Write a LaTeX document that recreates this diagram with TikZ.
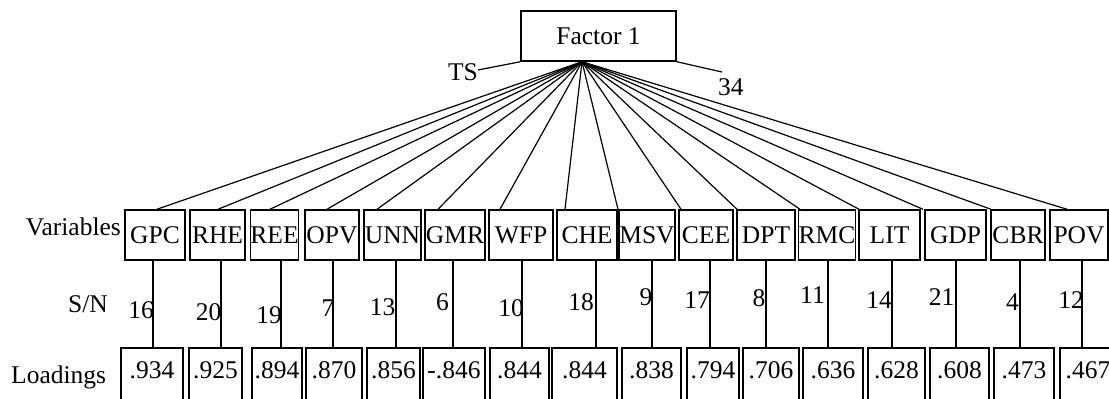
\documentclass[tikz,border=0pt]{standalone}
\usepackage{fontspec}
\setmainfont{Liberation Serif}
\begin{document}
\begin{tikzpicture}[x=1pt,y=-1pt,
  every node/.style={font=\fontsize{25.5}{27}\selectfont, inner sep=0pt},
  box/.style={draw, line width=1.5pt},
  varbox/.style={box, minimum height=50pt},
  loadbox/.style={box, minimum height=60pt, text height=17.5pt, text depth=16.6pt, anchor=north},
  conn/.style={line width=1.2pt}]
\useasboundingbox (0,0) rectangle (1109,399);
% factor
\node[box, minimum width=155pt, minimum height=50pt] (f) at (598.5,36) {Factor 1\hspace{6pt}};
\coordinate (apex) at ([xshift=-16.5pt]f.south);
\node[anchor=base east] (ts) at (478,80) {TS};
\node[anchor=base west] (n34) at (718,95) {34};
\coordinate (c34) at (722,72);
\draw[conn] (ts.east |- 0,70) -- (f.south west);
\draw[conn] (f.south east) -- (c34);
% row labels
\node[anchor=base east] (lv) at (121,235) {Variables};
\node[anchor=base east] (lsn) at (108,312) {S/N};
\node[anchor=base west] (lld) at (11,383) {Loadings};
% variables, loadings, S/N
\foreach \i/\t/\cx/\w/\fs/\vs/\lx/\lw/\lt/\sn/\sx/\sy in {
  1/GPC/155/60/2/-2/152/62/.934/16/141/310,
  2/RHE/217.5/55/0.5/3.5/215.5/53/.925/20/208.5/312,
  3/REE/274.5/47/-4.5/6.5/277/50/.894/19/269/315,
  4/OPV/332/54/-5/1/334/56/.870/7/328/308,
  5/UNN/392.5/57/-15.5/3.5/393.5/53/.856/13/382.5/307,
  6/GMR/455/60/-17/-2/454/62/-.846/6/442.5/302,
  7/WFP/521/64/-21/1/519.5/59/.844/10/511/308,
  8/CHE/587/60/-22/9/584.5/65/.844/18/581/302,
  9/MSV/647/56/-29/5/651.5/59/.838/9/646/297,
  10/CEE/706/54/-25/4/713/52/.794/17/697/300,
  11/DPT/766/58/-29/0/771/56/.706/8/759/298,
  12/RMC/827/56/-27/1/833/60/.636/11/812.5/295,
  13/LIT/889.5/61/-30.5/2.5/896.5/57/.628/14/879/300,
  14/GDP/955.5/61/-32.5/0.5/959.5/59/.608/21/941.5/297,
  15/CBR/1018/54/-27/2/1024/60/.473/4/1012.5/302,
  16/POV/1079/58/-12/3/1088/56/.467/12/1071/300}{
  \node[varbox, minimum width=\w pt] (v\i) at (\cx,235) {\t};
  \node[loadbox, minimum width=\lw pt] (l\i) at (\lx,347) {\lt};
  \node (s\i) at (\sx,\sy) {\sn};
  \draw[conn] (apex) -- ([xshift=\fs pt]v\i.north);
  \draw[conn] ([xshift=\vs pt]v\i.south) -- ([xshift=\vs pt]v\i.south |- l\i.north);
}
\end{tikzpicture}
\end{document}
